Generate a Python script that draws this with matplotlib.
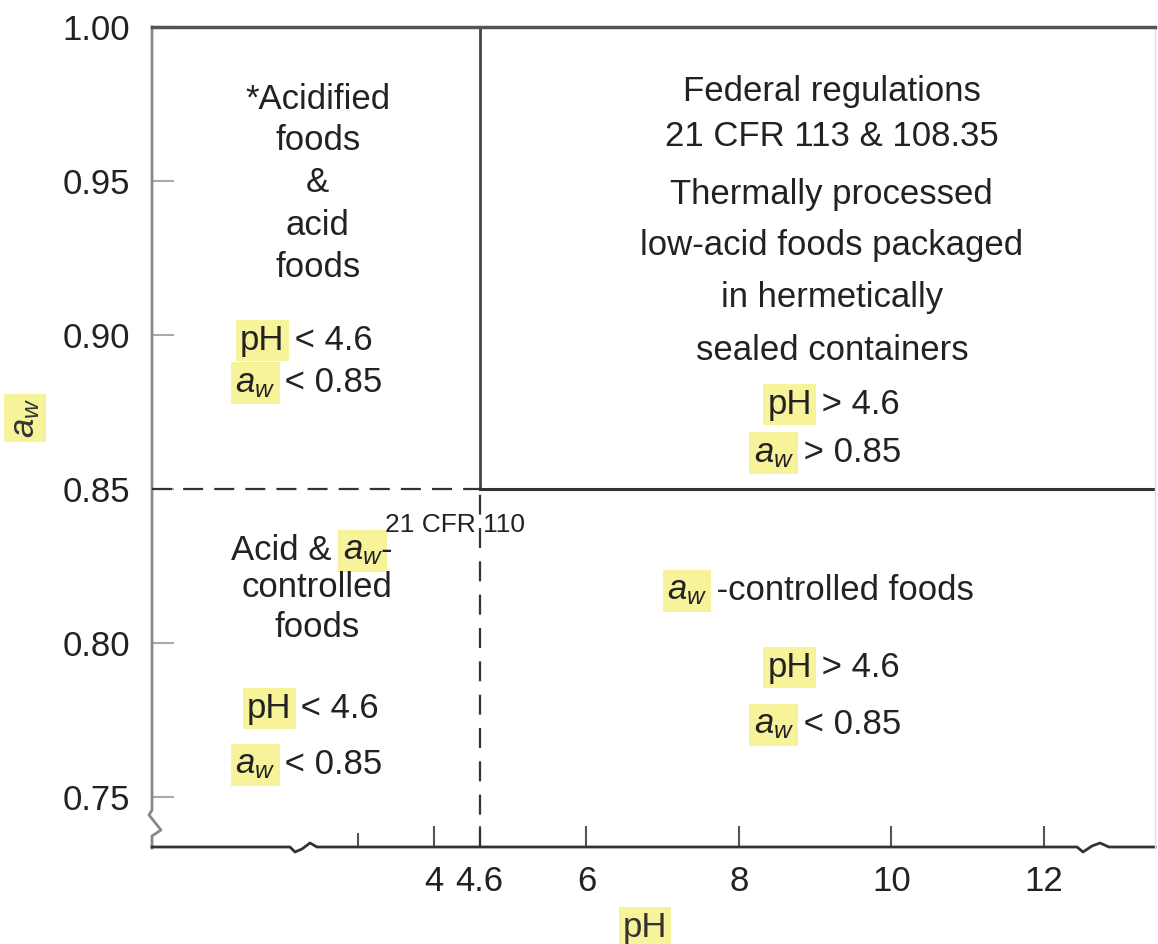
import matplotlib.pyplot as plt
from matplotlib.lines import Line2D

plt.rcParams['font.family'] = 'Liberation Sans'
plt.rcParams['mathtext.fontset'] = 'custom'
plt.rcParams['mathtext.rm'] = 'Liberation Sans'
plt.rcParams['mathtext.it'] = 'Liberation Sans:italic'

# region limits
ph_limit = 4.6
aw_limit = 0.85

ph_ticks = [4, 4.6, 6, 8, 10, 12]
ph_tick_labels = ['4', '4.6', '6', '8', '10', '12']
ph_minor = [3]
aw_ticks = [0.75, 0.80, 0.85, 0.90, 0.95, 1.00]
aw_tick_labels = ['0.75', '0.80', '0.85', '0.90', '0.95', '1.00']

ph_range = (0.3, 13.46)
aw_range = (0.7334, 1.0)

INK = '#222222'
HL = dict(boxstyle='square,pad=0.12', fc='#f7f39b', ec='none')
FS = 25

fig = plt.figure(figsize=(11.58, 9.44), dpi=100)
ax = fig.add_axes([152 / 1158, 1 - 848 / 944, 1003 / 1158, 821 / 944])
ax.set_xlim(*ph_range)
ax.set_ylim(*aw_range)

# frame: top dark, right faint, left/bottom drawn by hand with breaks
ax.spines['top'].set_color('#555555')
ax.spines['top'].set_linewidth(2.5)
ax.spines['right'].set_color('#dddddd')
ax.spines['right'].set_linewidth(1)
ax.spines['left'].set_visible(False)
ax.spines['bottom'].set_visible(False)

W, H = 1003.0, 821.0
left_px = [(0, 27), (0, 810), (-3, 815), (9, 830), (0, 836), (0, 848)]
ax.add_line(Line2D([p[0] / W for p in left_px], [(848 - p[1]) / H for p in left_px],
                   transform=ax.transAxes, color='#888888', lw=2, clip_on=False))
bot_px = [(0, 847), (138, 847), (143, 852), (150, 849), (158, 843), (165, 847),
          (925, 847), (931, 852), (940, 846), (948, 843), (957, 847), (1003, 847)]
ax.add_line(Line2D([p[0] / W for p in bot_px], [(848 - p[1]) / H for p in bot_px],
                   transform=ax.transAxes, color='#333333', lw=2, clip_on=False))

# ticks
ax.set_xticks(ph_ticks)
ax.set_xticklabels(ph_tick_labels)
ax.set_xticks(ph_minor, minor=True)
ax.set_yticks(aw_ticks)
ax.set_yticklabels(aw_tick_labels)
ax.tick_params(axis='x', which='major', direction='in', length=16, width=1.5,
               color='#555555', labelsize=FS, labelcolor=INK, pad=12)
ax.tick_params(axis='x', which='minor', direction='in', length=11, width=1.5,
               color='#555555')
ax.tick_params(axis='y', direction='in', length=16, width=1.5,
               color='#aaaaaa', labelsize=FS, labelcolor=INK, pad=16)

# boundaries
ax.plot([ph_limit, ph_limit], [aw_limit, aw_range[1]], color='#444444', lw=2)
ax.plot([ph_limit, ph_range[1]], [aw_limit, aw_limit], color='#333333', lw=2.2)
ax.plot([ph_range[0], ph_limit], [aw_limit, aw_limit], color='#333333', lw=1.6,
        dashes=(9, 5))
ax.plot([ph_limit, ph_limit], [aw_range[0], aw_limit], color='#333333', lw=1.6,
        dashes=(9, 6))

# axis labels
ax.set_xlabel('pH', fontsize=FS, color='#333333', bbox=HL, va='center')
ax.xaxis.set_label_coords(0.4915, -0.0974)
ax.set_ylabel(r'$a_w$', fontsize=FS, color='#333333', bbox=HL, va='center')
ax.yaxis.set_label_coords(-0.1266, 0.524)


def line(x, y, s, size=FS):
    ax.text(x, y, s, ha='center', va='center', fontsize=size, color=INK)


def hl_row(x, y, key, rest):
    ax.text(x, y, key, ha='right', va='baseline', fontsize=FS, color=INK, bbox=HL)
    ax.text(x, y, rest, ha='left', va='baseline', fontsize=FS, color=INK)


# upper left
for s, y in [('*Acidified', 0.9763), ('foods', 0.9633), ('&', 0.9494),
             ('acid', 0.9354), ('foods', 0.9218)]:
    line(2.474, y, s)
hl_row(2.04, 0.8951, 'pH', ' < 4.6')
hl_row(1.92, 0.8815, r'$a_w$', ' < 0.85')

# upper right
for s, y in [('Federal regulations', 0.9789), ('21 CFR 113 & 108.35', 0.9643),
             ('Thermally processed', 0.9455), ('low-acid foods packaged', 0.9292),
             ('in hermetically', 0.9120), ('sealed containers', 0.8951)]:
    line(9.22, y, s)
hl_row(8.96, 0.8744, 'pH', ' > 4.6')
hl_row(8.72, 0.8588, r'$a_w$', ' > 0.85')

# lower left
ax.text(2.776, 0.8270, 'Acid & ', ha='right', va='baseline', fontsize=FS, color=INK)
ax.text(2.80, 0.8270, r'$a_w$', ha='left', va='baseline', fontsize=FS, color=INK, bbox=HL)
ax.text(3.30, 0.8270, '-', ha='left', va='baseline', fontsize=FS, color=INK)
line(2.47, 0.8179, 'controlled')
line(2.47, 0.8049, 'foods')
hl_row(2.13, 0.7757, 'pH', ' < 4.6')
hl_row(1.92, 0.7575, r'$a_w$', ' < 0.85')
line(4.27, 0.8383, '21 CFR 110', size=19)

# lower right
hl_row(7.58, 0.8140, r'$a_w$', ' -controlled foods')
hl_row(8.96, 0.7890, 'pH', ' > 4.6')
hl_row(8.72, 0.7705, r'$a_w$', ' < 0.85')

fig.savefig('out.png', dpi=100)
